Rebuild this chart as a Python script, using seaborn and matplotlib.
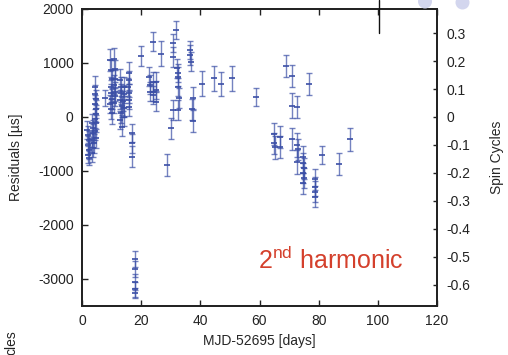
import numpy as np
import pandas as pd
import matplotlib
matplotlib.use("Agg")
import matplotlib.pyplot as plt
import seaborn as sns
from matplotlib.patches import Ellipse
from matplotlib.lines import Line2D

# ---- data ----
days = [1.8, 2.0, 2.2, 2.0, 2.3, 2.1, 2.4,
        3.4, 3.6, 3.8, 3.5, 3.9, 3.7, 3.3,
        4.3, 4.5, 4.7, 4.4, 4.8, 4.6, 4.4, 4.9, 4.5, 4.7,
        7.9,
        9.6, 9.8, 10.0, 9.7, 9.9, 10.1, 9.6, 9.9, 10.0,
        10.9, 11.0, 11.2, 10.9, 11.1, 11.3, 10.7,
        12.9, 13.1, 13.3, 13.0, 13.5, 13.2, 12.9, 13.4,
        14.1, 14.2, 14.0, 14.3, 14.1,
        15.8, 15.9, 15.7, 15.9, 15.8, 16.0,
        16.9, 17.0, 16.9,
        17.9, 17.9, 17.9, 17.9, 17.9,
        20.0,
        22.7, 22.9, 23.0,
        23.9, 24.0, 24.1, 24.0,
        24.9, 25.0, 24.9,
        26.8, 28.7, 30.1,
        30.8, 30.7, 30.8,
        31.7,
        32.2, 32.4, 32.6, 32.5, 32.8, 32.6,
        36.6, 36.6, 36.7,
        37.4, 37.3, 37.4,
        40.7, 44.7, 47.0, 50.8, 58.8,
        65.0, 65.0, 65.1,
        66.9, 66.9,
        68.9,
        70.9, 70.9, 70.9,
        72.8, 72.8, 72.9, 72.8,
        74.8, 74.8, 74.9, 74.8, 74.9, 74.8,
        76.7,
        78.8, 78.8, 78.9, 78.8,
        81.0, 87.0, 90.6]
resid = [-240, -330, -425, -520, -610, -700, -765,
         -120, -210, -300, -400, -490, -580, -660,
         560, 420, 330, 240, 150, 60, -30, -120, -250, -395,
         345,
         1055, 870, 700, 560, 450, 330, 240, 150, 70,
         1080, 880, 700, 600, 470, 380, 260,
         685, 560, 440, 320, 200, 70, -50, -180,
         560, 430, 300, 170, 5,
         810, 680, 560, 440, 320, 190,
         -300, -490, -735,
         -2630, -2820, -3055, -3190, -3260,
         1130,
         745, 600, 470,
         1395, 655, 470, 410,
         655, 500, 285,
         1170, -890, -210,
         1370, 1115, 130,
         1610,
         900, 815, 745, 560, 350, 130,
         1240, 1150, 1025,
         350, 140, -70,
         620, 715, 610, 715, 375,
         -315, -490, -560,
         -365, -550,
         945,
         760, 210, -410,
         190, -520, -600, -830,
         -735, -850, -950, -1040, -1130, -1230,
         610,
         -1155, -1290, -1380, -1475,
         -700, -870, -415]
err = [170, 160, 170, 160, 170, 160, 130,
       170, 160, 170, 160, 170, 160, 170,
       200, 170, 170, 160, 170, 160, 170, 160, 170, 170,
       150,
       200, 180, 170, 180, 170, 180, 170, 180, 200,
       200, 180, 170, 180, 170, 180, 180,
       200, 180, 170, 180, 170, 180, 170, 180,
       180, 170, 180, 170, 180,
       200, 180, 170, 180, 170, 180,
       170, 180, 200,
       150, 150, 150, 140, 100,
       180,
       180, 170, 180,
       180, 170, 180, 170,
       180, 170, 180,
       230, 200, 200,
       170, 180, 190,
       170,
       180, 170, 180, 170, 180, 190,
       170, 180, 170,
       200, 190, 200,
       240, 235, 220, 230, 170,
       210, 200, 210,
       200, 200,
       200,
       200, 230, 200,
       200, 220, 200, 220,
       200, 180, 190, 180, 190, 200,
       200,
       200, 180, 190, 200,
       170, 200, 215]

x_ticks = [0, 20, 40, 60, 80, 100, 120]
y_ticks = [-3000, -2000, -1000, 0, 1000, 2000]
cycle_ticks = [-0.6, -0.5, -0.4, -0.3, -0.2, -0.1, 0.0, 0.1, 0.2, 0.3]
period_us = 5180.0

blue = "#3a4ea6"

sns.set_style("ticks")
plt.rcParams["font.family"] = ["Liberation Sans", "DejaVu Sans"]
plt.rcParams["axes.unicode_minus"] = False
plt.rcParams["mathtext.fontset"] = "custom"
plt.rcParams["mathtext.rm"] = "Liberation Sans"

W, H = 508, 355
fig = plt.figure(figsize=(W / 100, H / 100), dpi=100)
ax = fig.add_axes([82 / W, 1 - 306 / H, (437 - 82) / W, (306 - 9) / H])

df = pd.DataFrame({"day": days, "resid": resid, "err": err})
ax.errorbar(df["day"], df["resid"], yerr=df["err"], fmt="none",
            ecolor=blue, elinewidth=1.0, capsize=2.3, capthick=1.0,
            alpha=0.7, zorder=2)
sns.scatterplot(data=df, x="day", y="resid", marker="_", s=14,
                color=blue, linewidth=1.2, ax=ax, legend=False, zorder=3)

ax.set_xlim(0, 120)
ax.set_ylim(-3500, 2000)
ax.set_xticks(x_ticks)
ax.set_yticks(y_ticks)
ax.set_xticklabels([str(t) for t in x_ticks])
ax.set_yticklabels([str(t) for t in y_ticks])
ax.tick_params(axis="both", direction="in", length=4, width=1.0,
               labelsize=10, colors="#222222", pad=6)
ax.tick_params(axis="x", top=True, labeltop=False)
ax.tick_params(axis="y", right=False)
for s in ax.spines.values():
    s.set_linewidth(1.3)
    s.set_color("#222222")

ax.set_xlabel("MJD-52695 [days]", fontsize=10)
ax.xaxis.label.set(va="center")
ax.xaxis.set_label_coords(0.5, (306 - 341) / 297)
ax.set_ylabel("Residuals [\u00b5s]", fontsize=10)
ax.yaxis.label.set(va="center", ha="center", rotation_mode="default")
ax.yaxis.set_label_coords((16 - 82) / 355, 0.5)

ax2 = ax.twinx()
ax2.set_ylim(-3500 / period_us, 2000 / period_us)
ax2.set_yticks(cycle_ticks)
ax2.set_yticklabels(["0" if abs(t) < 1e-9 else f"{t:.1f}" for t in cycle_ticks])
ax2.tick_params(axis="y", direction="in", length=3, width=1.0,
                labelsize=10, colors="#222222", pad=7)
for s in ax2.spines.values():
    s.set_linewidth(1.3)
    s.set_color("#222222")
ax2.set_ylabel("Spin Cycles", fontsize=10)
ax2.yaxis.label.set(va="center", ha="center", rotation_mode="default", rotation=90)
ax2.yaxis.set_label_coords((497 - 82) / 355, 0.5)

ax.text((258 - 82) / 355, (306 - 269) / 297, "2$^{\\mathrm{nd}}$ harmonic",
        transform=ax.transAxes, ha="left", va="baseline",
        fontsize=18, color="#d4402c")

# fragments of neighbouring panels visible at the edges
fig.add_artist(Line2D([379 / W, 379 / W], [1.0, 1 - 33 / H],
                      transform=fig.transFigure, color="#111111", lw=1.0))
for cx, cy in [(425, 1.5), (462.5, 2.5)]:
    fig.add_artist(Ellipse((cx / W, 1 - cy / H), 14 / W, 14 / H,
                           transform=fig.transFigure, color="#d3d6ee", lw=0))
fig.text(11 / W, 1 - 330 / H, "cles", rotation=90,
         ha="center", va="top", fontsize=10, color="#222222")

fig.savefig("out.png", dpi=100)
